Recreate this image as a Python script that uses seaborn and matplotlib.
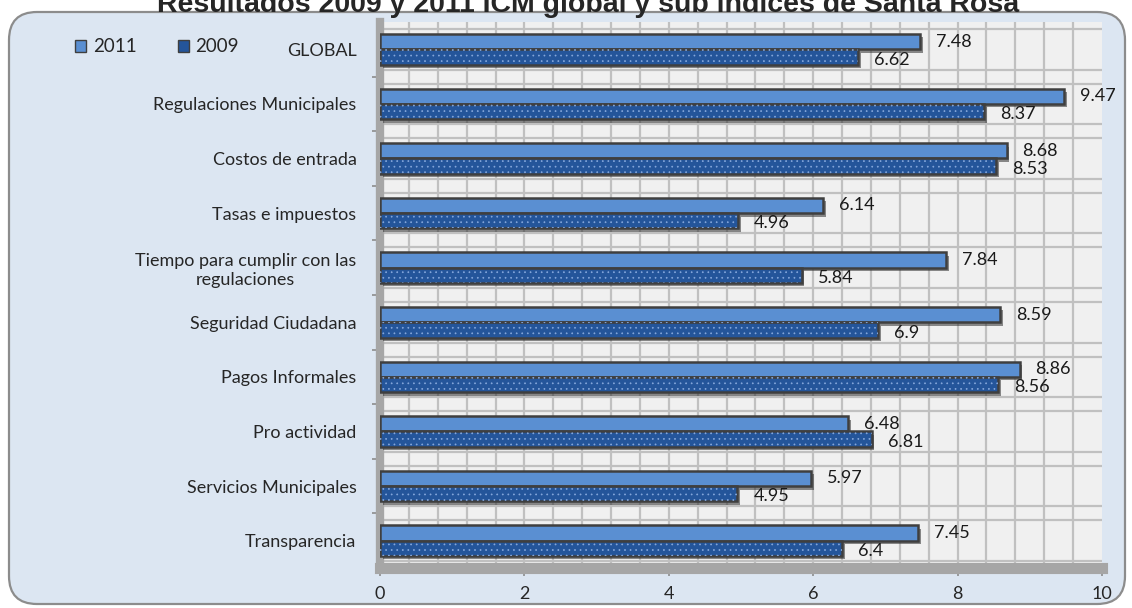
import numpy as np
import pandas as pd
import matplotlib
matplotlib.use("Agg")
import matplotlib.pyplot as plt
import matplotlib.patches as mpatches
import matplotlib.patheffects as pe
from matplotlib.transforms import IdentityTransform
import seaborn as sns

# ---- data ----
categories = [
    "GLOBAL",
    "Regulaciones Municipales",
    "Costos de entrada",
    "Tasas e impuestos",
    "Tiempo para cumplir con las\nregulaciones",
    "Seguridad Ciudadana",
    "Pagos Informales",
    "Pro actividad",
    "Servicios Municipales",
    "Transparencia",
]
values_2011 = [7.48, 9.47, 8.68, 6.14, 7.84, 8.59, 8.86, 6.48, 5.97, 7.45]
values_2009 = [6.62, 8.37, 8.53, 4.96, 5.84, 6.90, 8.56, 6.81, 4.95, 6.40]
series = ["2011", "2009"]
x_ticks = [0, 2, 4, 6, 8, 10]
title = "Resultados 2009 y 2011 ICM global y sub índices de Santa Rosa"

df = pd.DataFrame({
    "categoria": categories * 2,
    "valor": values_2011 + values_2009,
    "año": ["2011"] * len(categories) + ["2009"] * len(categories),
})

sns.set_theme(style="white")
plt.rcParams["font.family"] = ["Lato", "DejaVu Sans"]
plt.rcParams["hatch.linewidth"] = 0.5

W, H = 1132, 608
fig = plt.figure(figsize=(W / 100, H / 100), dpi=100, facecolor="white")

# rounded panel behind the chart
panel = mpatches.FancyBboxPatch(
    (9, 4), 1116, 592,
    boxstyle="round,pad=0,rounding_size=28",
    transform=IdentityTransform(), facecolor="#dce6f2",
    edgecolor="#8c8c8c", linewidth=1.6, zorder=-10,
)
fig.patches.append(panel)

ax = fig.add_axes([380 / W, (H - 568) / H, 722 / W, (568 - 22) / H])
ax.set_zorder(5)
ax.set_facecolor("#f0f0f0")

c2011 = "#5a8fd2"
c2009 = "#24559a"

sns.barplot(
    data=df, y="categoria", x="valor", hue="año", hue_order=series,
    order=categories, orient="h", palette=[c2011, c2009], saturation=1,
    width=0.56, dodge=True, gap=0, edgecolor="#3f3f3f", linewidth=1.8,
    ax=ax, legend=False, zorder=3,
)

shadow = [pe.SimplePatchShadow(offset=(2, -2.5), shadow_rgbFace="#303030", alpha=0.55), pe.Normal()]
bars_2011 = ax.containers[0]
bars_2009 = ax.containers[1]
for p in bars_2011.patches:
    p.set_path_effects(shadow)
for p in bars_2009.patches:
    p.set_path_effects(shadow)
    dots = mpatches.Rectangle(
        (p.get_x(), p.get_y()), p.get_width(), p.get_height(),
        fill=False, hatch="...", edgecolor="#86a8dc", linewidth=0, zorder=3.5,
    )
    ax.add_patch(dots)

# value labels next to each bar end
for p, v in zip(bars_2011.patches, values_2011):
    ax.text(v + 0.22, p.get_y() + p.get_height() / 2, f"{v:g}",
            ha="left", va="center", fontsize=13, color="#1a1a1a", zorder=5)
for p, v in zip(bars_2009.patches, values_2009):
    ax.text(v + 0.22, p.get_y() + p.get_height() / 2 + 0.05, f"{v:g}",
            ha="left", va="center", fontsize=13, color="#1a1a1a", zorder=5)

# grid
ax.set_xlim(0, 10)
ax.set_ylim(len(categories) - 0.5, -0.5)
for gx in np.arange(0.4, 10.0, 0.4):
    ax.axvline(gx, color="#c0c0c0", lw=1.6, zorder=1)
for k in range(-1, len(categories)):
    for off in (-0.13, 0.13):
        yy = k + 0.5 + off
        if -0.5 < yy < len(categories) - 0.5:
            ax.axhline(yy, color="#c0c0c0", lw=1.6, zorder=1)

ax.set_xticks(x_ticks)
ax.set_xticklabels([str(t) for t in x_ticks], fontsize=13)
ax.tick_params(axis="x", length=6, width=1.2, color="#8c8c8c", pad=7, direction="out", bottom=True)
ax.set_yticks(range(len(categories)))
ax.set_yticklabels(categories, fontsize=13, multialignment="center")
ax.set_yticks(np.arange(0.5, len(categories) - 0.5, 1), minor=True)
ax.tick_params(axis="y", which="major", length=0, pad=17)
ax.tick_params(axis="y", which="minor", length=6, width=1.2, color="#8c8c8c", left=True)

for side in ("top", "right"):
    ax.spines[side].set_visible(False)
ax.spines["left"].set_color("#a6a6a6")
ax.spines["left"].set_linewidth(6)
ax.spines["bottom"].set_color("#a6a6a6")
ax.spines["bottom"].set_linewidth(8)
ax.set_xlabel("")
ax.set_ylabel("")

# legend
handles = [
    mpatches.Patch(facecolor=c2011, edgecolor="#3f3f3f", linewidth=1.0, label="2011"),
    mpatches.Patch(facecolor=c2009, edgecolor="#3f3f3f", linewidth=1.0, label="2009"),
]
leg = fig.legend(handles=handles, loc="center left", bbox_to_anchor=(58 / W, 1 - 47 / H),
                 ncol=2, frameon=False, fontsize=13.5, handlelength=0.6, handleheight=0.6,
                 handletextpad=0.35, columnspacing=2.2)
leg.set_zorder(6)

fig.text(588 / W, 1 - 12 / H, title, ha="center", va="baseline",
         fontsize=20.5, fontweight="bold", family=["Liberation Sans", "DejaVu Sans"])

fig.savefig("out.png", dpi=100, facecolor="white")
